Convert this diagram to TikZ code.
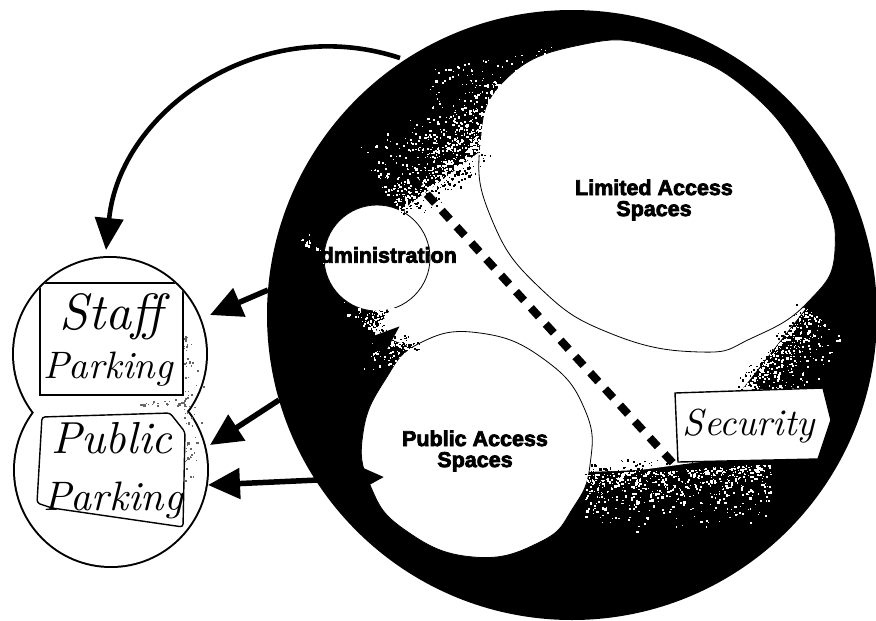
\documentclass[tikz,border=0pt]{standalone}
\usepackage{fontspec}
\usepackage{graphicx}
\usetikzlibrary{arrows.meta}
\newfontfamily\labelfont{Liberation Sans}[BoldFeatures={FakeBold=3.5}]
\newcommand{\handtext}[1]{{\rmfamily\itshape #1}}

% scatter small specks along an edge A--B, pushed out along a unit normal
% #1,#2 = A   #3,#4 = B   #5,#6 = normal   #7 = depth   #8 = count   #9 = colour
\newcommand{\grainband}[9]{%
  \foreach \k in {1,...,#8}{%
    \pgfmathsetmacro{\grU}{rnd}%
    \pgfmathsetmacro{\grV}{#7*rnd*rnd}%
    \pgfmathsetmacro{\grX}{#1+\grU*(#3-#1)+\grV*(#5)}%
    \pgfmathsetmacro{\grY}{#2+\grU*(#4-#2)+\grV*(#6)}%
    \pgfmathsetmacro{\grS}{0.7+1.8*rnd}%
    \fill[#9] (\grX,\grY) rectangle ++(\grS,\grS);%
  }%
}

\tikzset{
  lab/.style={font=\labelfont\bfseries\fontsize{21.5}{21}\selectfont, align=center, inner sep=0pt},
  hand/.style={inner sep=0pt},
  arr/.style={line width=5.5pt, -{Triangle[length=32pt,width=30pt]}},
  arrboth/.style={line width=5.5pt, {Triangle[length=32pt,width=30pt]}-{Triangle[length=30pt,width=28pt]}},
  curvearr/.style={line width=4.6pt, -{Triangle[length=32pt,width=28pt]}},
  thinedge/.style={line width=0.8pt},
  paper/.style={line width=1.4pt},
}

\begin{document}
\begin{tikzpicture}[x=1pt,y=-1pt]
\useasboundingbox (0,0) rectangle (876,621);
\pgfmathsetseed{4217}

% ---- the building: black disc with white zones cut out of it
\fill[black] (572,315) circle[radius=305pt];

\fill[white] (405,208) -- (482,150) -- (700,300) -- (806,308) -- (740,392)
  -- (700,462) -- (640,470) -- (588,472) -- (540,420) -- (418,350)
  -- (375,333) -- (390,310) -- (406,298) -- (400,250) -- cycle;
\fill[white] (377,258) circle[radius=53pt];
\fill[white] plot[smooth cycle, tension=0.8] coordinates {
  (580,45) (660,48) (750,92) (815,180) (835,250) (808,302) (752,338)
  (700,352) (612,334) (540,288) (492,220) (480,145) (505,80)};
\fill[white] plot[smooth cycle, tension=0.8] coordinates {
  (420,343) (385,380) (363,433) (370,485) (405,530) (473,557) (540,542)
  (573,508) (590,465) (585,410) (545,360) (480,333)};

% faint outlines of the zones where they cross the white core
\draw[thinedge] (377,258) circle[radius=53pt];
\draw[thinedge] plot[smooth cycle, tension=0.8] coordinates {
  (580,45) (660,48) (750,92) (815,180) (835,250) (808,302) (752,338)
  (700,352) (612,334) (540,288) (492,220) (480,145) (505,80)};
\draw[thinedge] plot[smooth cycle, tension=0.8] coordinates {
  (420,343) (385,380) (363,433) (370,485) (405,530) (473,557) (540,542)
  (573,508) (590,465) (585,410) (545,360) (480,333)};

% stippled transitions between black and white
\grainband{400}{212}{486}{150}{-0.585}{-0.811}{80}{560}{white}
\grainband{400}{212}{486}{150}{0.585}{0.811}{18}{90}{black}
\grainband{478}{150}{500}{82}{-0.951}{-0.308}{40}{160}{white}
\grainband{585}{474}{770}{464}{0}{1}{62}{620}{white}
\grainband{585}{474}{770}{464}{0}{-1}{14}{100}{black}
\grainband{740}{392}{806}{308}{0.786}{0.618}{55}{380}{white}
\grainband{740}{392}{806}{308}{-0.786}{-0.618}{14}{60}{black}
\grainband{375}{333}{418}{350}{-0.37}{0.93}{40}{150}{white}
\grainband{390}{310}{375}{333}{-0.84}{-0.55}{45}{150}{white}
\grainband{406}{298}{390}{310}{-0.6}{-0.8}{30}{60}{white}
\grainband{375}{333}{418}{350}{0.37}{-0.93}{12}{50}{black}
\grainband{430}{70}{560}{45}{0}{1}{90}{90}{white}
\grainband{300}{240}{330}{270}{0.7}{-0.7}{12}{40}{white}

% boundary between public and limited zones
\coordinate (dashA) at (412,178);
\coordinate (dashB) at (693,485);
\draw[line width=8pt, dash pattern=on 12pt off 10pt] (dashA) -- (dashB);

% security post
\filldraw[fill=white, paper] (675,393) -- (823,388) -- (831,420) -- (818,459) -- (678,462) -- cycle;
\node[hand] (security) at (749,426) {\resizebox{132pt}{!}{\handtext{Security}}};

% zone labels
\node[lab] (admin) at (381,255) {Administration};
\node[lab] (limited) at (654,200) {Limited Access\\Spaces};
\node[lab] (public) at (475,451) {Public Access\\Spaces};

% ---- parking: two joined circles
\draw[line width=4pt] (110,354) circle[radius=96pt] (111,470) circle[radius=96pt];
\fill[white] (110,354) circle[radius=96pt] (111,470) circle[radius=96pt];
\grainband{183}{330}{185}{480}{1}{0}{20}{70}{black!60}
\grainband{140}{405}{185}{405}{0}{-1}{8}{25}{black!60}

\begin{scope}
  \clip (110,354) circle[radius=96pt];
  \draw[paper] (40,283) rectangle (183,395);
\end{scope}
\draw[paper, rounded corners=3pt] (42,417) -- (170,413) -- (185,432) -- (183,527) -- (52,508) -- (37,503) -- cycle;

\node[hand] (staff1) at (111,317) {\resizebox{103pt}{!}{\handtext{Staff}}};
\node[hand] (staff2) at (108,369) {\resizebox{130pt}{!}{\handtext{Parking}}};
\node[hand] (pub1) at (112,438) {\resizebox{121pt}{!}{\handtext{Public}}};
\node[hand] (pub2) at (113,500) {\resizebox{140pt}{!}{\handtext{Parking}}};

% ---- connectors
\coordinate (ringA) at (400,58);
\coordinate (staffTop) at (106,250);
\coordinate (ringB) at (268,290);
\coordinate (staffSide) at (210,315);
\coordinate (ringC) at (279,400);
\coordinate (pubSide) at (210,445);
\coordinate (pubSideLow) at (208,485);
\coordinate (publicEdge) at (384,477);
\coordinate (ringD) at (335,382);
\coordinate (coreTip) at (400,326);

\draw[curvearr] (ringA) .. controls (260,12) and (120,110) .. (staffTop);
\draw[arr] (ringB) -- (staffSide);
\draw[arr] (ringC) -- (pubSide);
\draw[arrboth] (pubSideLow) -- (publicEdge);
\draw[line width=5.5pt, -{Triangle[length=32pt,width=22pt]}] (ringD) -- (coreTip);
\end{tikzpicture}
\end{document}
